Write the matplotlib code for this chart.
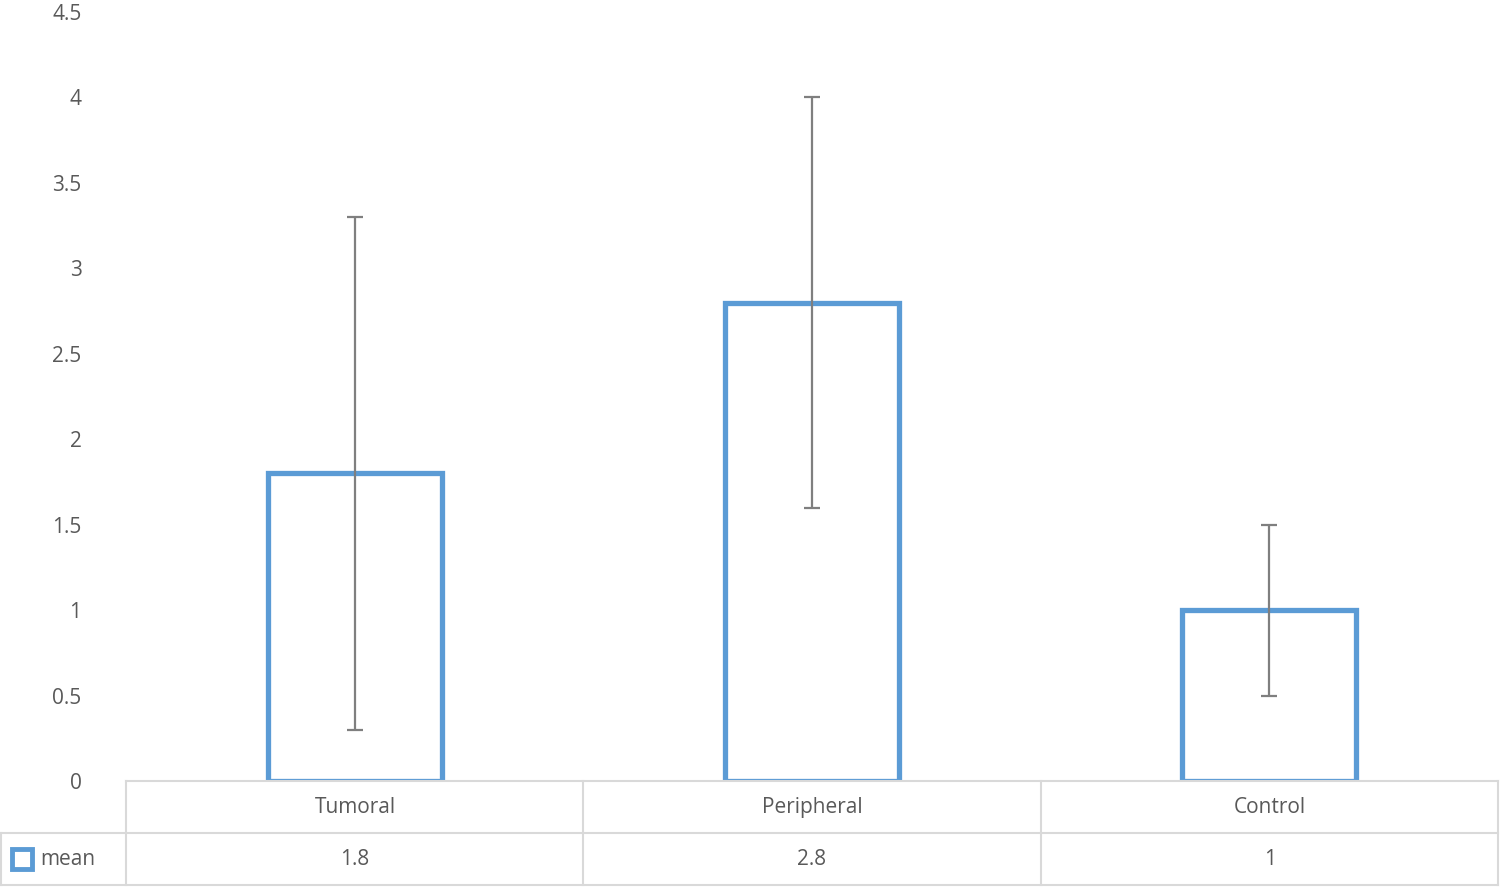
import matplotlib
matplotlib.use("Agg")
import matplotlib.pyplot as plt
from matplotlib.lines import Line2D
from matplotlib.patches import Rectangle

categories = ["Tumoral", "Peripheral", "Control"]
means = [1.8, 2.8, 1.0]
errors = [1.5, 1.2, 0.5]
mean_labels = ["1.8", "2.8", "1"]
yticks = [0, 0.5, 1, 1.5, 2, 2.5, 3, 3.5, 4, 4.5]
ytick_labels = ["0", "0.5", "1", "1.5", "2", "2.5", "3", "3.5", "4", "4.5"]

plt.rcParams['font.family'] = ['Open Sans', 'DejaVu Sans']
W, H = 1501, 888
fig = plt.figure(figsize=(W/100, H/100), dpi=100)
def fx(x): return x / W
def fy(y): return 1 - y / H
ax = fig.add_axes([fx(126), fy(781), fx(1498) - fx(126), fy(12) - fy(781)])
blue = "#5B9BD5"
grey = "#595959"
x = range(len(categories))
ax.bar(x, means, width=0.38, facecolor="white", edgecolor=blue, linewidth=3.8, zorder=2)
ax.errorbar(x, means, yerr=errors, fmt="none", ecolor="#7f7f7f", elinewidth=1.6,
            capsize=6, capthick=1.6, zorder=3)
ax.set_xlim(-0.5, 2.5)
ax.set_ylim(0, 4.5)
ax.set_yticks(yticks)
ax.set_yticklabels(ytick_labels)
ax.tick_params(axis='y', length=0, pad=32, labelsize=15, labelcolor=grey)
ax.set_xticks([])
for s in ax.spines.values():
    s.set_visible(False)

lc = "#d9d9d9"
def hline(y, x0, x1):
    fig.add_artist(Line2D([fx(x0), fx(x1)], [fy(y), fy(y)], color=lc, lw=1.5))
def vline(x, y0, y1):
    fig.add_artist(Line2D([fx(x), fx(x)], [fy(y0), fy(y1)], color=lc, lw=1.5))
hline(781, 126, 1498)
hline(833, 1, 1498)
hline(885, 1, 1498)
for xv in [126, 583, 1041, 1498]:
    vline(xv, 781, 885)
vline(1, 833, 885)

centers = [355, 812, 1270]
for c, cat, ml in zip(centers, categories, mean_labels):
    fig.text(fx(c), fy(807), cat, ha="center", va="center", fontsize=15, color=grey)
    fig.text(fx(c), fy(859), ml, ha="center", va="center", fontsize=15, color=grey)
fig.add_artist(Rectangle((fx(12), fy(869)), fx(20), fy(849) - fy(869) , facecolor="white",
                         edgecolor=blue, lw=3.5, transform=fig.transFigure))
fig.text(fx(40), fy(859), "mean", ha="left", va="center", fontsize=15, color=grey)

fig.savefig("out.png", dpi=100)
